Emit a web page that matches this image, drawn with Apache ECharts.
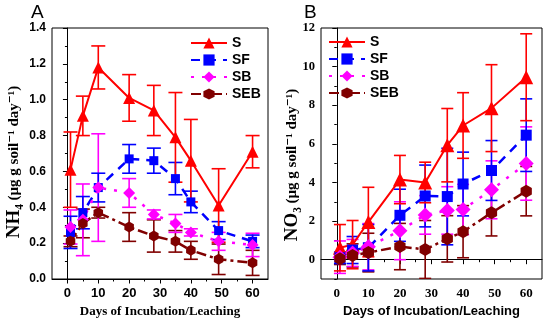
<!DOCTYPE html>
<html>
<head>
<meta charset="utf-8">
<script src="https://cdn.jsdelivr.net/npm/echarts@6/dist/echarts.min.js"></script>
<style>html,body{margin:0;padding:0;background:#fff}#c{width:550px;height:323px}</style>
</head>
<body>
<div id="c"></div>
<script>
// ---------- data ----------
const days = [1, 5, 10, 20, 28, 35, 40, 49, 60];
const seriesNames = ['S', 'SF', 'SB', 'SEB'];

// Panel A: NH4
const nh4S      = [0.61, 0.91, 1.18, 1.01, 0.94, 0.79, 0.66, 0.41, 0.71];
const nh4SErr   = [0.21, 0.11, 0.12, 0.13, 0.14, 0.25, 0.23, 0.205, 0.09];
const nh4SF     = [0.26, 0.37, 0.51, 0.67, 0.66, 0.56, 0.43, 0.27, 0.21];
const nh4SFErr  = [0.09, 0.09, 0.08, 0.08, 0.07, 0.09, 0.06, 0.05, 0.035];
const nh4SB     = [0.29, 0.33, 0.51, 0.48, 0.36, 0.31, 0.26, 0.21, 0.19];
const nh4SBErr  = [0.095, 0.2, 0.3, 0.08, 0.025, 0.05, 0.02, 0.05, 0.065];
const nh4SEB    = [0.21, 0.31, 0.37, 0.29, 0.24, 0.21, 0.16, 0.11, 0.09];
const nh4SEBErr = [0.03, 0.08, 0.03, 0.08, 0.09, 0.06, 0.05, 0.085, 0.07];

// Panel B: NO3
const no3S      = [0.62, 0.78, 1.95, 4.15, 4.0, 5.93, 6.95, 7.85, 9.45];
const no3SErr   = [1.2, 1.25, 1.8, 1.25, 1.05, 1.9, 1.7, 2.25, 2.25];
const no3SF     = [0.1, 0.5, 0.62, 2.3, 3.3, 3.27, 3.92, 4.62, 6.45];
const no3SFErr  = [0.3, 0.7, 1.2, 1.35, 1.6, 2.5, 1.65, 1.55, 1.88];
const no3SB     = [0.13, 0.35, 0.67, 1.5, 2.32, 2.55, 2.6, 3.62, 4.98];
const no3SBErr  = [0.84, 0.7, 1.2, 1.5, 1.0, 1.23, 1.3, 1.5, 1.9];
const no3SEB    = [0.05, 0.22, 0.37, 0.68, 0.53, 1.08, 1.45, 2.43, 3.55];
const no3SEBErr = [0.3, 0.6, 1.0, 1.2, 1.5, 1.2, 1.35, 1.2, 1.28];

// tick values
const xMajorTicks = [0, 10, 20, 30, 40, 50, 60];
const xMinorTicks = [5, 15, 25, 35, 45, 55];
const yMajorTicksA = [0, 0.2, 0.4, 0.6, 0.8, 1.0, 1.2, 1.4];
const yMinorTicksA = [0.1, 0.3, 0.5, 0.7, 0.9, 1.1, 1.3];
const yMajorTicksB = [0, 2, 4, 6, 8, 10, 12];
const yMinorTicksB = [-1, 1, 3, 5, 7, 9, 11];

// ---------- styles ----------
const hexPath = 'path://M0,-10 L8.66,-5 L8.66,5 L0,10 L-8.66,5 L-8.66,-5 Z';
const styles = {
  S:   {color: '#ff0000', symbol: 'triangle', sizes: [12, 14], type: 'solid', width: 2},
  SF:  {color: '#0000ff', symbol: 'rect', sizes: [9, 11], type: [9, 7], width: 2.5},
  SB:  {color: '#ff00ff', symbol: 'diamond', sizes: [12, 15], type: [3, 8], width: 2.5},
  SEB: {color: '#800000', symbol: hexPath, sizes: [11, 13], type: [10, 4, 3, 4], width: 2.5}
};

function lineSeries(name, idx, vals) {
  const s = styles[name];
  return {
    name: name, type: 'line', xAxisIndex: idx * 2, yAxisIndex: idx * 2,
    data: days.map((d, i) => [d, vals[i]]),
    symbol: s.symbol, symbolSize: s.sizes[idx], symbolKeepAspect: true,
    itemStyle: {color: s.color},
    lineStyle: {color: s.color, type: s.type, width: s.width},
    z: 4, animation: false
  };
}
function errSeries(name, idx, vals, errs, capW) {
  const s = styles[name];
  return {
    type: 'custom', xAxisIndex: idx * 2, yAxisIndex: idx * 2, clip: true, silent: true, z: 3,
    data: days.map((d, i) => [d, vals[i] - errs[i], vals[i] + errs[i]]),
    encode: {x: 0, y: [1, 2]},
    renderItem: function (params, api) {
      const x = api.value(0);
      const lo = api.coord([x, api.value(1)]);
      const hi = api.coord([x, api.value(2)]);
      const st = {stroke: s.color, lineWidth: 1.6};
      return {type: 'group', children: [
        {type: 'line', shape: {x1: lo[0], y1: lo[1], x2: hi[0], y2: hi[1]}, style: st},
        {type: 'line', shape: {x1: lo[0] - capW, y1: lo[1], x2: lo[0] + capW, y2: lo[1]}, style: st},
        {type: 'line', shape: {x1: hi[0] - capW, y1: hi[1], x2: hi[0] + capW, y2: hi[1]}, style: st}
      ]};
    },
    animation: false
  };
}

const sansFam = 'Liberation Sans, Arial, sans-serif';
const serifFam = 'Liberation Serif, DejaVu Serif, serif';
const sansBold = {fontFamily: sansFam, fontWeight: 'bold', fontSize: 13, color: '#000'};
const serifBold = {fontFamily: serifFam, fontWeight: 'bold', fontSize: 13, color: '#000'};
const yLabSansBold = {fontFamily: sansFam, fontWeight: 'bold', fontSize: 12, color: '#000'};
const yLabSerifBold = {fontFamily: serifFam, fontWeight: 'bold', fontSize: 12.5, color: '#000'};

function xAxes(idx, labelStyle, nameStyle) {
  const base = {type: 'value', gridIndex: idx, min: -5, max: 65, splitLine: {show: false}};
  return [
    Object.assign({}, base, {
      axisLine: {show: true, lineStyle: {color: '#000', width: 1}},
      axisTick: {show: true, inside: false, length: 4.5, customValues: xMajorTicks, lineStyle: {color: '#000'}},
      axisLabel: Object.assign({margin: 8, customValues: xMajorTicks}, labelStyle),
      name: 'Days of Incubation/Leaching', nameLocation: 'middle', nameGap: 26,
      nameTextStyle: nameStyle
    }),
    Object.assign({}, base, {
      position: 'bottom', offset: 0,
      axisLine: {show: false},
      axisTick: {show: true, inside: false, length: 2.5, customValues: xMinorTicks, lineStyle: {color: '#000'}},
      axisLabel: {show: false}
    })
  ];
}
function yAxes(idx, min, max, majors, minors, labStyle, fmt) {
  const base = {type: 'value', gridIndex: idx, min: min, max: max, splitLine: {show: false}};
  return [
    Object.assign({}, base, {
      axisLine: {show: true, lineStyle: {color: '#000'}},
      axisTick: {show: true, length: 4.5, customValues: majors, lineStyle: {color: '#000'}},
      axisLabel: Object.assign({margin: 6, customValues: majors, formatter: fmt}, labStyle)
    }),
    Object.assign({}, base, {
      position: 'left', offset: 0,
      axisLine: {show: false},
      axisTick: {show: true, length: 2.5, customValues: minors, lineStyle: {color: '#000'}},
      axisLabel: {show: false}
    })
  ];
}

const yNameRich = {
  a: {fontFamily: serifFam, fontWeight: 'bold', fontSize: 19, fill: '#000'},
  b: {fontFamily: serifFam, fontWeight: 'bold', fontSize: 15, fill: '#000'}
};
const legendText = {fontFamily: sansFam, fontWeight: 'bold', fontSize: 14, color: '#000'};

const option = {
  backgroundColor: '#fff',
  animation: false,
  grid: [
    {left: 52, top: 28, width: 216, height: 259, show: true, borderColor: '#000', borderWidth: 1, backgroundColor: 'transparent'},
    {left: 321, top: 28, width: 221, height: 259, show: true, borderColor: '#000', borderWidth: 1, backgroundColor: 'transparent'}
  ],
  xAxis: [].concat(xAxes(0, sansBold, serifBold), xAxes(1, serifBold, sansBold)),
  yAxis: [].concat(
    yAxes(0, 0, 1.4, yMajorTicksA, yMinorTicksA, yLabSansBold, v => v.toFixed(1)),
    yAxes(1, -1, 12, yMajorTicksB, yMinorTicksB, yLabSerifBold, v => String(v))
  ),
  legend: [
    {
      data: seriesNames, orient: 'vertical', left: 185, top: 31, itemWidth: 36, itemHeight: 14, itemGap: 3,
      textStyle: legendText, selectedMode: false
    },
    {
      data: seriesNames, orient: 'vertical', left: 323, top: 30, itemWidth: 36, itemHeight: 14, itemGap: 3,
      textStyle: legendText, selectedMode: false
    }
  ],
  graphic: [
    {type: 'text', left: 31, top: 3, style: {text: 'A', font: '19px "Liberation Sans", Arial, sans-serif', fill: '#000'}},
    {type: 'text', left: 304, top: 3, style: {text: 'B', font: '19px "Liberation Sans", Arial, sans-serif', fill: '#000'}},
    {type: 'text', x: 14, y: 162, rotation: Math.PI / 2,
      style: {text: '{a|NH₄} {b|(µg g soil⁻¹ day⁻¹)}', rich: yNameRich, align: 'center', verticalAlign: 'middle'}},
    {type: 'text', x: 292, y: 165, rotation: Math.PI / 2,
      style: {text: '{a|NO₃} {b|(µg g soil⁻¹ day⁻¹)}', rich: yNameRich, align: 'center', verticalAlign: 'middle'}}
  ],
  series: [
    errSeries('SEB', 0, nh4SEB, nh4SEBErr, 7),
    errSeries('SB', 0, nh4SB, nh4SBErr, 7),
    errSeries('SF', 0, nh4SF, nh4SFErr, 7),
    errSeries('S', 0, nh4S, nh4SErr, 7),
    lineSeries('S', 0, nh4S),
    lineSeries('SF', 0, nh4SF),
    lineSeries('SB', 0, nh4SB),
    lineSeries('SEB', 0, nh4SEB),
    errSeries('SEB', 1, no3SEB, no3SEBErr, 6),
    errSeries('SB', 1, no3SB, no3SBErr, 6),
    errSeries('SF', 1, no3SF, no3SFErr, 6),
    errSeries('S', 1, no3S, no3SErr, 6),
    lineSeries('S', 1, no3S),
    lineSeries('SF', 1, no3SF),
    lineSeries('SB', 1, no3SB),
    lineSeries('SEB', 1, no3SEB)
  ]
};

const chart = echarts.init(document.getElementById('c'), null, {renderer: 'canvas'});
chart.setOption(option);
</script>
</body>
</html>
